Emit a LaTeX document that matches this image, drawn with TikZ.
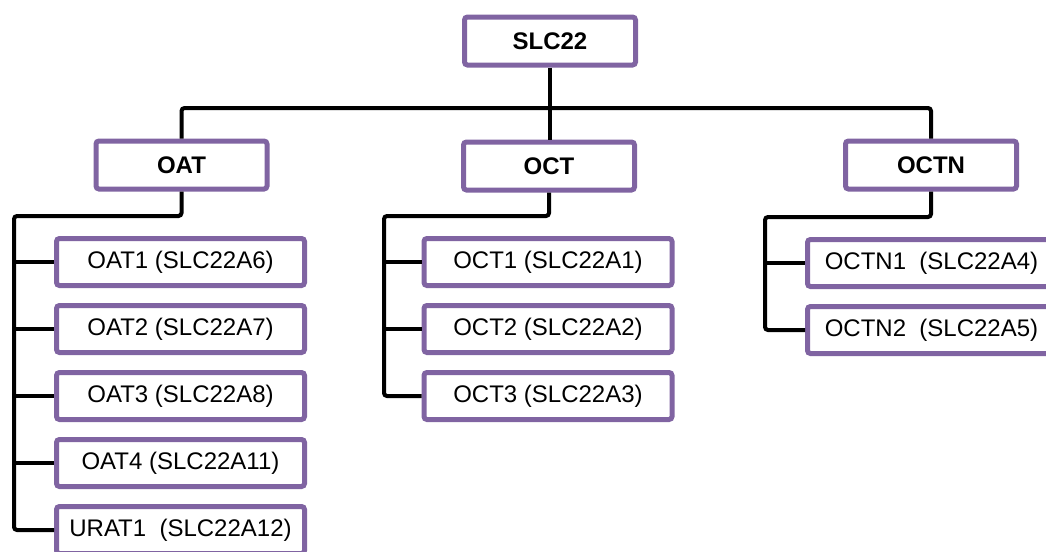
\documentclass[tikz,border=0pt]{standalone}
\usepackage{fontspec}
\setmainfont{Liberation Sans}
\usetikzlibrary{positioning}
\definecolor{boxpurple}{RGB}{128,100,162}
\tikzstyle{block} = [draw=boxpurple, line width=2.5pt, rectangle, rounded corners=1.5pt, fill=white, font=\fontsize{12}{14}\selectfont, inner sep=2pt]
\tikzstyle{family} = [block, minimum width=85.5pt, minimum height=24pt, font=\fontsize{12}{14}\selectfont\bfseries]
\tikzstyle{member} = [block, minimum width=124pt, minimum height=23.5pt]
\tikzstyle{wire} = [line width=2pt, rounded corners=1.5pt]

\begin{document}
\begin{tikzpicture}[x=0.5pt, y=-0.5pt, node distance=7.5pt]
    \useasboundingbox (0,0) rectangle (1046,552);
    \clip (0,0) rectangle (1046,552);

    % Families.
    \node (slc) [family] at (550,41) {SLC22};
    \node (oat) [family] at (181.5,165) {OAT};
    \node (oct) [family] at (549,166) {OCT};
    \node (octn) [family] at (931,165) {OCTN};

    % Members.
    \node (oat1) [member] at (180.5,262) {OAT1 (SLC22A6)};
    \node (oat2) [member, below=of oat1] {OAT2 (SLC22A7)};
    \node (oat3) [member, below=of oat2] {OAT3 (SLC22A8)};
    \node (oat4) [member, below=of oat3] {OAT4 (SLC22A11)};
    \node (oat5) [member, below=of oat4] {URAT1\ \ (SLC22A12)};

    \node (oct1) [member] at (548,262) {OCT1 (SLC22A1)};
    \node (oct2) [member, below=of oct1] {OCT2 (SLC22A2)};
    \node (oct3) [member, below=of oct2] {OCT3 (SLC22A3)};

    \node (octn1) [member] at (931.5,263) {OCTN1\ \ (SLC22A4)};
    \node (octn2) [member, below=of octn1] {OCTN2\ \ (SLC22A5)};

    % Bus and spines.
    \coordinate (bus) at (550,108);
    \coordinate (oatspine) at (14,216);
    \coordinate (octspine) at (384,216);
    \coordinate (octnspine) at (765,217);

    % Lines.
    \draw [wire] (slc.south) -- (slc.south |- oct.north);
    \draw [wire] (oat.north) |- (bus) -| (octn.north);

    \draw [wire] (oat.south) |- (oatspine) |- (oat5.west);
    \draw [wire] (oct.south) |- (octspine) |- (oct3.west);
    \draw [wire] (octn.south) |- (octnspine) |- (octn2.west);

    \foreach\i in {1, ..., 4} {
        \draw [wire] (oatspine |- oat\i.west) -- (oat\i.west);
    }
    \foreach\i in {1, 2} {
        \draw [wire] (octspine |- oct\i.west) -- (oct\i.west);
    }
    \draw [wire] (octnspine |- octn1.west) -- (octn1.west);
\end{tikzpicture}
\end{document}
